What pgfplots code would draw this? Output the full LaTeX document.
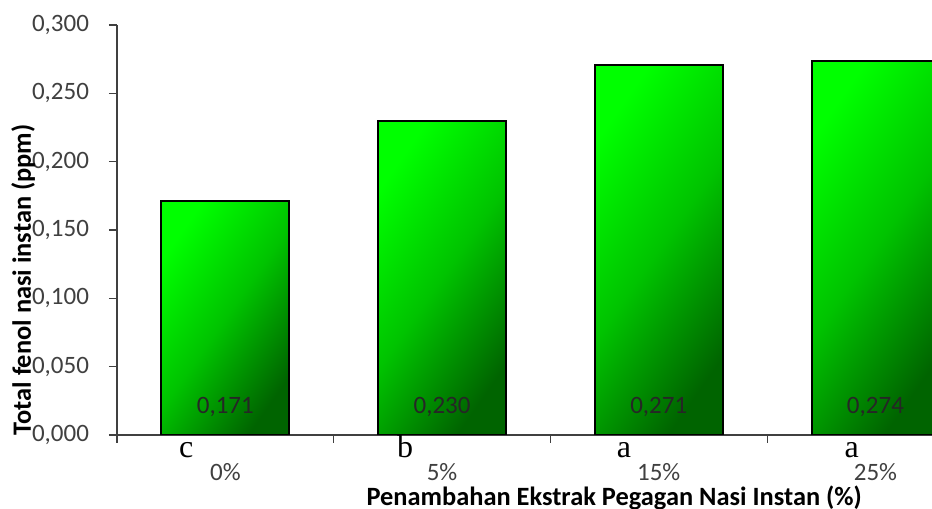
\documentclass[border=0pt]{standalone}
\usepackage{fontspec}
\setmainfont{Carlito}
\newfontfamily\seriffont{Liberation Serif}
\usepackage{pgfplots}
\usepackage{pgfplotstable}
\pgfplotsset{compat=1.18}
\definecolor{gtop}{RGB}{0,255,0}
\definecolor{gmid}{RGB}{0,195,0}
\definecolor{gbot}{RGB}{0,100,0}
\definecolor{txt}{RGB}{64,64,64}
\pgfplotstableread{
x y ly
0 0.171 0.0205
1 0.230 0.0205
2 0.271 0.0205
3 0.274 0.0205
}\data
\pgfplotsset{greenbar/.style={ybar, bar width=0.59, bar shift=0pt, draw=black, line width=1pt,
  top color=gtop, bottom color=gbot, middle color=gmid, shading angle=55}}
\begin{document}
\begin{tikzpicture}
\begin{axis}[
  name=ax,
  width=407.5pt, height=205pt, scale only axis,
  xmin=-0.5, xmax=3.261, ymin=0, ymax=0.3,
  axis lines*=left,
  axis line style={line width=0.6pt, black!75},
  clip mode=individual,
  xtick={-0.5,0.5,1.5,2.5}, xticklabels={},
  extra x ticks={0,1,2,3},
  extra x tick labels={0\%,5\%,15\%,25\%},
  extra x tick style={major tick length=0pt, tick label style={yshift=-10.5pt}},
  ytick={0,0.05,0.1,0.15,0.2,0.25,0.3},
  tick align=outside, major tick length=4pt,
  tick style={black!75, line width=0.6pt},
  /pgf/number format/assume math mode=true,
  yticklabel style={xshift=-6.5pt, /pgf/number format/.cd, fixed, fixed zerofill, precision=3, use comma},
  tick label style={font=\fontsize{12.5}{14}\selectfont, text=txt},
  xlabel={Penambahan Ekstrak Pegagan Nasi Instan (\%)},
  ylabel={Total fenol nasi instan (ppm)},
  label style={font=\bfseries\fontsize{13.2}{15}\selectfont, text=black},
  xlabel style={at={(0.61,-0.153)}, anchor=center},
  ylabel style={at={(-0.115,0.378)}, anchor=center},
]
\addplot[greenbar] table[x=x, y=y, skip coords between index={1}{4}]{\data};
\addplot[greenbar] table[x=x, y=y, skip coords between index={0}{1}, skip coords between index={2}{4}]{\data};
\addplot[greenbar] table[x=x, y=y, skip coords between index={0}{2}, skip coords between index={3}{4}]{\data};
\addplot[greenbar] table[x=x, y=y, skip coords between index={0}{3}]{\data};
\addplot[draw=none, mark=none, nodes near coords, point meta=explicit,
  nodes near coords style={anchor=center, font=\fontsize{12.5}{14}\selectfont, text=black!85,
    /pgf/number format/.cd, fixed, fixed zerofill, precision=3, use comma, assume math mode=true}]
  table[x=x, y=ly, meta=y]{\data};
\node[font=\seriffont\fontsize{16}{16}\selectfont, anchor=base] at ([yshift=-11.5pt]axis cs:-0.18,0) {c};
\node[font=\seriffont\fontsize{16}{16}\selectfont, anchor=base] at ([yshift=-11.5pt]axis cs:0.83,0) {b};
\node[font=\seriffont\fontsize{16}{16}\selectfont, anchor=base] at ([yshift=-11.5pt]axis cs:1.84,0) {a};
\node[font=\seriffont\fontsize{16}{16}\selectfont, anchor=base] at ([yshift=-11.5pt]axis cs:2.89,0) {a};
\end{axis}
\pgfresetboundingbox
\path[use as bounding box] ([xshift=-58.5pt,yshift=-37pt]ax.south west) rectangle ([yshift=12.5pt]ax.north east);
\end{tikzpicture}
\end{document}
